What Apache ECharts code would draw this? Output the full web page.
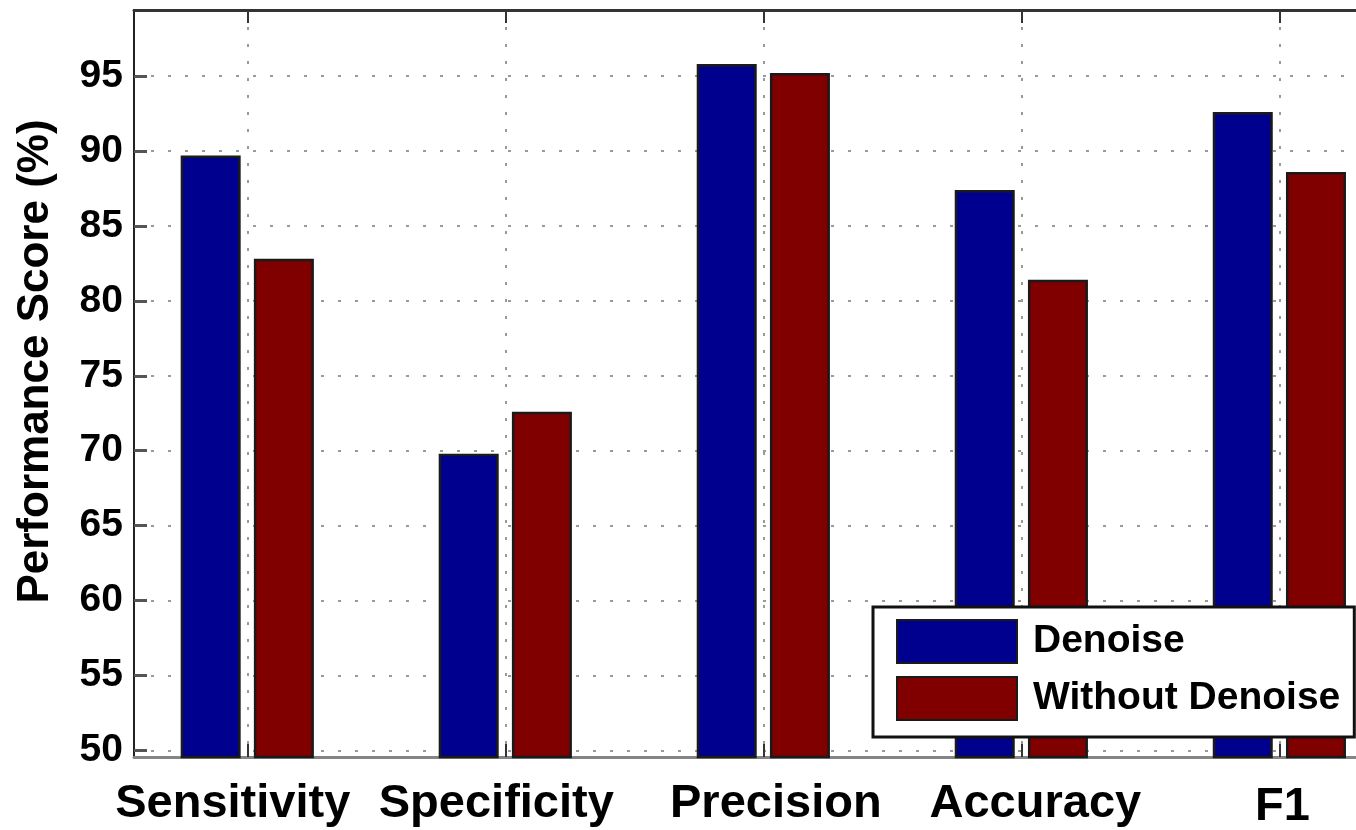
<!DOCTYPE html>
<html><head><meta charset="utf-8">
<script src="https://cdn.jsdelivr.net/npm/echarts@6/dist/echarts.min.js"></script>
<style>html,body{margin:0;padding:0;background:#fff}#c{width:1356px;height:830px}</style>
</head><body><div id="c"></div>
<script>
const categories = ['Sensitivity', 'Specificity', 'Precision', 'Accuracy', 'F1'];
const denoise = [89.7, 69.8, 95.8, 87.4, 92.6];
const withoutDenoise = [82.8, 72.6, 95.2, 81.4, 88.6];
const yTicks = [50, 55, 60, 65, 70, 75, 80, 85, 90, 95];
const seriesNames = ['Denoise', 'Without Denoise'];

const positions = categories.map((c, i) => i + 1);
const FONT = '"Liberation Sans", Arial, sans-serif';

// small per-label horizontal nudges (style only)
const labelRich = {
  l0: { padding: [0, 29, 0, 0] },
  l1: { padding: [0, 18, 0, 0] },
  l2: { padding: [0, 0, 0, 25] },
  l3: { padding: [0, 0, 0, 28] },
  l4: { padding: [3, 0, 0, 6] }
};
Object.keys(labelRich).forEach(k => Object.assign(labelRich[k], {
  fontSize: 47, fontWeight: 'bold', color: '#000', fontFamily: FONT
}));

const dotted = { type: [3, 14], color: '#9a9a9a', width: 2 };
const X_MIN = 0.561, X_MAX = 5.297;

const chart = echarts.init(document.getElementById('c'), null, { renderer: 'canvas' });
chart.setOption({
  animation: false,
  backgroundColor: '#fff',
  grid: { left: 134, top: 10, right: 0, height: 747, containLabel: false, outerBoundsMode: 'none' },
  xAxis: [
    {
      type: 'value', position: 'bottom', min: X_MIN, max: X_MAX,
      axisLine: { show: true, onZero: false, lineStyle: { color: '#858585', width: 3 } },
      axisTick: { show: true, inside: true, length: 13, customValues: positions, lineStyle: { color: '#333', width: 2 } },
      axisLabel: {
        customValues: positions, margin: 24, rich: labelRich,
        formatter: v => { const i = Math.round(v) - 1; return '{l' + i + '|' + categories[i] + '}'; }
      },
      splitLine: { show: true, lineStyle: dotted }
    },
    {
      type: 'value', position: 'top', min: X_MIN, max: X_MAX,
      axisLine: { show: true, onZero: false, lineStyle: { color: '#333', width: 3 } },
      axisTick: { show: true, inside: true, length: 13, customValues: positions, lineStyle: { color: '#333', width: 2 } },
      axisLabel: { show: false },
      splitLine: { show: false }
    }
  ],
  yAxis: {
    type: 'value', min: 49.57, max: 99.4,
    name: 'Performance Score (%)', nameLocation: 'middle', nameGap: 76,
    nameTextStyle: { fontSize: 44, fontWeight: 'bold', color: '#000', fontFamily: FONT, padding: [0, 0, 0, 44] },
    axisLine: { show: true, onZero: false, lineStyle: { color: '#222', width: 2 } },
    axisTick: { show: true, inside: true, length: 13, customValues: yTicks, lineStyle: { color: '#555', width: 3 } },
    axisLabel: { customValues: yTicks, margin: 11, fontSize: 39, fontWeight: 'bold', color: '#000', fontFamily: FONT },
    splitLine: { show: true, lineStyle: dotted }
  },
  legend: {
    orient: 'vertical', left: 873, top: 607,
    itemWidth: 120, itemHeight: 43, itemGap: 12,
    padding: [12, 14, 16, 23],
    borderColor: '#111', borderWidth: 3, backgroundColor: '#fff',
    icon: 'rect',
    textStyle: { fontSize: 39, lineHeight: 43, fontWeight: 'bold', color: '#000', fontFamily: FONT, padding: [0, 0, 0, 11] },
    data: seriesNames
  },
  series: [
    {
      name: seriesNames[0], type: 'bar', xAxisIndex: 0, barWidth: 60, barGap: '22%',
      itemStyle: { color: '#00008F', borderColor: '#1a1a1a', borderWidth: 2.5 },
      data: positions.map((x, i) => [x, denoise[i]])
    },
    {
      name: seriesNames[1], type: 'bar', xAxisIndex: 0, barWidth: 60, barGap: '22%',
      itemStyle: { color: '#800000', borderColor: '#1a1a1a', borderWidth: 2.5 },
      data: positions.map((x, i) => [x, withoutDenoise[i]])
    }
  ]
});
</script>
</body></html>
